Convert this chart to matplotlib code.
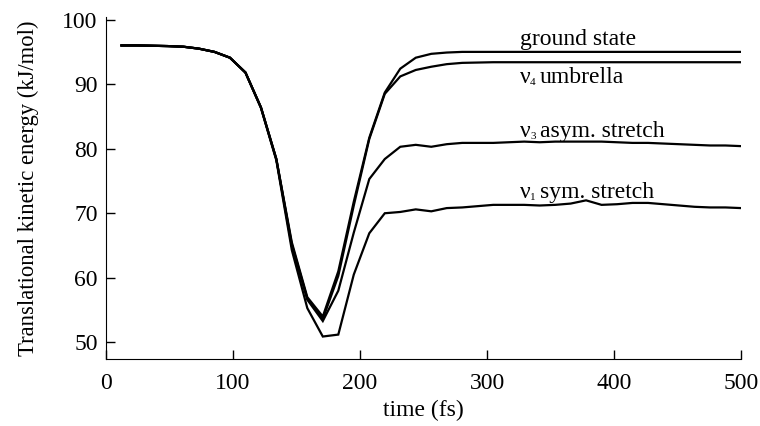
import matplotlib
matplotlib.use("Agg")
import matplotlib.pyplot as plt
from matplotlib.transforms import offset_copy

plt.rcParams['font.family'] = ['Liberation Serif', 'DejaVu Serif']

time_fs = [12.2, 24.4, 36.6, 48.8, 61.0, 73.2, 85.4, 97.6, 109.8, 122.0,
           134.1, 146.3, 158.5, 170.7, 182.9, 195.1, 207.3, 219.5, 231.7, 243.9,
           256.1, 268.3, 280.5, 292.7, 304.9, 317.1, 329.3, 341.5, 353.7, 365.9,
           378.0, 390.2, 402.4, 414.6, 426.8, 439.0, 451.2, 463.4, 475.6, 487.8, 500.0]

ground_state = [96.0, 96.0, 95.95, 95.9, 95.8, 95.5, 95.0, 94.1, 91.8, 86.4,
                78.4, 65.5, 57.0, 54.0, 61.0, 71.8, 81.7, 88.7, 92.4, 94.1,
                94.7, 94.9, 95.0, 95.0, 95.0, 95.0, 95.0, 95.0, 95.0, 95.0,
                95.0, 95.0, 95.0, 95.0, 95.0, 95.0, 95.0, 95.0, 95.0, 95.0, 95.0]

umbrella = [96.0, 96.0, 95.95, 95.9, 95.8, 95.5, 95.0, 94.1, 91.8, 86.4,
            78.4, 65.2, 56.8, 53.6, 60.3, 71.2, 81.5, 88.5, 91.2, 92.2,
            92.7, 93.1, 93.3, 93.35, 93.4, 93.4, 93.4, 93.4, 93.4, 93.4,
            93.4, 93.4, 93.4, 93.4, 93.4, 93.4, 93.4, 93.4, 93.4, 93.4, 93.4]

asym_stretch = [96.0, 96.0, 95.95, 95.9, 95.8, 95.5, 95.0, 94.1, 91.8, 86.4,
                78.4, 64.9, 56.6, 53.3, 58.0, 67.0, 75.3, 78.4, 80.3, 80.6,
                80.3, 80.7, 80.9, 80.9, 80.9, 81.0, 81.1, 81.0, 81.1, 81.1,
                81.1, 81.1, 81.0, 80.9, 80.9, 80.8, 80.7, 80.6, 80.5, 80.5, 80.4]

sym_stretch = [96.0, 96.0, 95.95, 95.9, 95.8, 95.5, 95.0, 94.1, 91.8, 86.3,
               78.2, 64.3, 55.3, 50.9, 51.2, 60.5, 66.9, 70.0, 70.2, 70.6,
               70.3, 70.8, 70.9, 71.1, 71.3, 71.3, 71.3, 71.2, 71.3, 71.5,
               72.0, 71.3, 71.4, 71.6, 71.6, 71.4, 71.2, 71.0, 70.9, 70.9, 70.8]

label_greek = ["", "ν", "ν", "ν"]
label_sub = ["", "4", "3", "1"]
label_rest = ["ground state", "umbrella", "asym. stretch", "sym. stretch"]
label_x = [326, 326, 326, 326]
label_y = [96.1, 90.2, 81.8, 72.4]

x_ticks = [0, 100, 200, 300, 400, 500]
y_ticks = [50, 60, 70, 80, 90, 100]

fig = plt.figure(figsize=(7.6, 4.26), dpi=100)
ax = fig.add_axes([0.1395, 0.157, 0.8355, 0.803])

for series in (ground_state, umbrella, asym_stretch, sym_stretch):
    ax.plot(time_fs, series, color='black', lw=1.6, solid_joinstyle='miter')

for g, s, r, tx, ty in zip(label_greek, label_sub, label_rest, label_x, label_y):
    if g:
        ax.text(tx, ty, g, fontsize=17, ha='left', va='baseline')
        ax.text(tx, ty, s, fontsize=8, ha='left', va='baseline',
                transform=offset_copy(ax.transData, fig=fig, x=10, y=-2, units='dots'))
        ax.text(tx, ty, r, fontsize=17, ha='left', va='baseline',
                transform=offset_copy(ax.transData, fig=fig, x=20, y=0, units='dots'))
    else:
        ax.text(tx, ty, r, fontsize=17, ha='left', va='baseline')

ax.set_xlim(0, 500)
ax.set_ylim(47.4, 100.4)
ax.set_xticks(x_ticks)
ax.set_yticks(y_ticks)
ax.tick_params(direction='in', length=6.5, width=1, labelsize=17)
ax.tick_params(axis='x', pad=10)
ax.tick_params(axis='y', pad=6)
ax.spines['top'].set_visible(False)
ax.spines['right'].set_visible(False)
ax.set_xlabel("time (fs)", fontsize=17, labelpad=4)
ax.set_ylabel("Translational kinetic energy (kJ/mol)", fontsize=16.3, labelpad=17)

fig.savefig("out.png", dpi=100)
